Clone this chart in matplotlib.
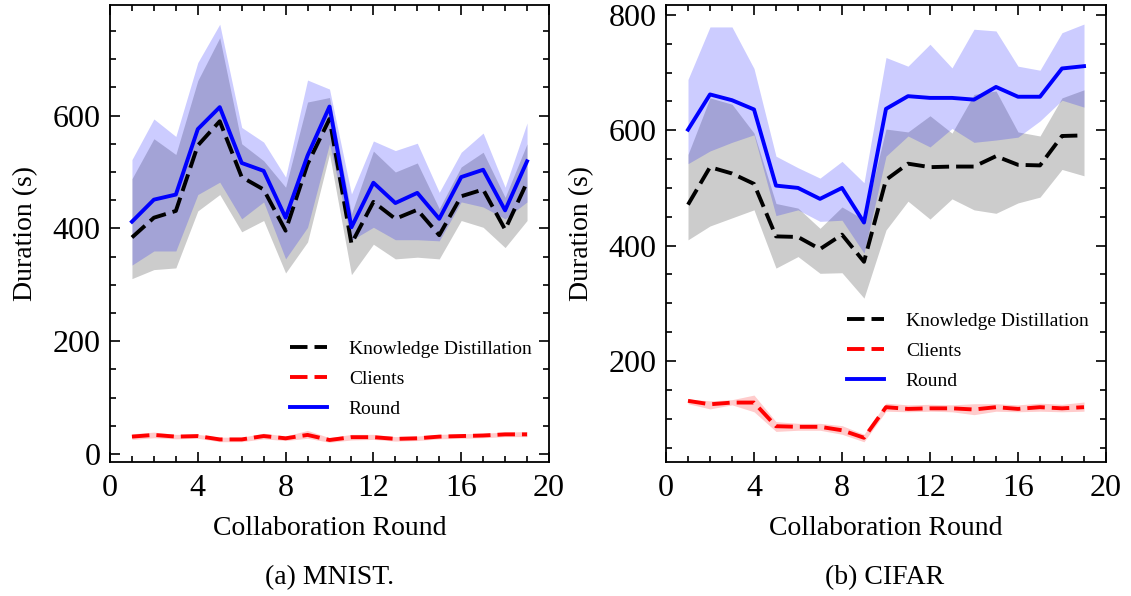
import matplotlib
matplotlib.use("Agg")
import matplotlib.pyplot as plt
from matplotlib.ticker import MultipleLocator
import numpy as np

plt.rcParams['font.family'] = ['Liberation Serif', 'DejaVu Serif']
plt.rcParams['mathtext.fontset'] = 'stix'

rounds = list(range(1, 20))

# MNIST
mnist_kd = [384, 419, 431, 547, 590, 491, 469, 396, 514, 594, 373, 447, 417, 433, 388, 457, 469, 398, 482]
mnist_kd_lo = [311, 327, 330, 431, 460, 394, 414, 321, 376, 532, 318, 372, 346, 349, 346, 414, 402, 366, 414]
mnist_kd_hi = [488, 559, 531, 662, 738, 550, 520, 473, 624, 632, 426, 537, 500, 516, 435, 509, 535, 455, 550]
mnist_round = [412, 451, 460, 576, 615, 516, 502, 419, 529, 616, 402, 481, 445, 463, 417, 491, 504, 432, 519]
mnist_round_lo = [335, 360, 360, 460, 482, 417, 447, 346, 402, 550, 379, 402, 380, 380, 378, 447, 438, 417, 447]
mnist_round_hi = [522, 594, 563, 694, 762, 579, 553, 491, 663, 647, 461, 555, 538, 551, 464, 535, 569, 473, 587]
mnist_cl = [31, 34, 31, 32, 26, 26, 32, 28, 34, 25, 30, 30, 27, 28, 31, 32, 33, 35, 35]
mnist_cl_lo = [26, 29, 27, 28, 22, 22, 27, 24, 28, 21, 25, 26, 23, 24, 27, 28, 29, 31, 31]
mnist_cl_hi = [36, 39, 35, 35, 30, 30, 37, 32, 42, 29, 35, 35, 31, 32, 35, 36, 37, 39, 40]

# CIFAR
cifar_kd = [471, 536, 525, 507, 416, 415, 394, 419, 372, 514, 542, 536, 537, 537, 555, 540, 539, 590, 591]
cifar_kd_lo = [410, 434, 448, 462, 361, 381, 352, 353, 309, 427, 477, 446, 481, 462, 456, 474, 484, 532, 521]
cifar_kd_hi = [558, 656, 645, 595, 473, 465, 430, 467, 445, 602, 597, 625, 595, 662, 668, 597, 590, 656, 670]
cifar_round = [601, 662, 652, 636, 504, 500, 481, 500, 440, 637, 659, 656, 656, 653, 675, 658, 658, 707, 711]
cifar_round_lo = [542, 564, 579, 592, 452, 462, 442, 444, 387, 555, 590, 571, 603, 579, 583, 588, 616, 652, 640]
cifar_round_hi = [688, 779, 779, 707, 555, 535, 517, 546, 509, 726, 711, 749, 708, 775, 772, 711, 704, 769, 784]
cifar_cl = [131, 125, 128, 128, 87, 86, 86, 80, 67, 120, 117, 118, 118, 116, 120, 117, 120, 118, 120]
cifar_cl_lo = [126, 117, 124, 112, 78, 80, 80, 73, 60, 113, 112, 113, 112, 107, 113, 112, 113, 112, 113]
cifar_cl_hi = [134, 131, 133, 141, 95, 92, 92, 88, 73, 127, 124, 125, 124, 126, 126, 124, 127, 125, 129]

x_ticks = [0, 4, 8, 12, 16, 20]
captions = ["(a) MNIST.", "(b) CIFAR"]

fig = plt.figure(figsize=(11.31, 5.96), dpi=100)
ax1 = fig.add_axes([110 / 1131, 134 / 596, 439 / 1131, 457 / 596])
ax2 = fig.add_axes([666 / 1131, 134 / 596, 440 / 1131, 457 / 596])

panels = [
    (ax1, mnist_kd, mnist_kd_lo, mnist_kd_hi, mnist_round, mnist_round_lo, mnist_round_hi,
     mnist_cl, mnist_cl_lo, mnist_cl_hi, (-14, 796), 0.058),
    (ax2, cifar_kd, cifar_kd_lo, cifar_kd_hi, cifar_round, cifar_round_lo, cifar_round_hi,
     cifar_cl, cifar_cl_lo, cifar_cl_hi, (25, 817), 0.12),
]

lw = 2.8
for (ax, kd, kdlo, kdhi, rd, rdlo, rdhi, cl, cllo, clhi, ylim, legy) in panels:
    ax.fill_between(rounds, kdlo, kdhi, color='black', alpha=0.2, linewidth=0)
    ax.fill_between(rounds, cllo, clhi, color='red', alpha=0.2, linewidth=0)
    ax.fill_between(rounds, rdlo, rdhi, color='blue', alpha=0.2, linewidth=0)
    ax.plot(rounds, kd, color='black', lw=lw, dashes=(4.5, 1.8), label='Knowledge Distillation')
    ax.plot(rounds, cl, color='red', lw=lw, dashes=(4.5, 1.8), label='Clients')
    ax.plot(rounds, rd, color='blue', lw=lw, label='Round')
    ax.set_xlim(0, 20)
    ax.set_ylim(*ylim)
    ax.set_xticks(x_ticks)
    ax.xaxis.set_minor_locator(MultipleLocator(1))
    ax.yaxis.set_major_locator(MultipleLocator(200))
    ax.yaxis.set_minor_locator(MultipleLocator(50))
    ax.tick_params(which='both', direction='in', top=True, right=True, width=1.2)
    ax.tick_params(which='major', length=7.5, labelsize=23)
    ax.tick_params(which='minor', length=4.3)
    ax.tick_params(axis='x', which='major', pad=9)
    ax.tick_params(axis='y', which='major', pad=7)
    for s in ax.spines.values():
        s.set_linewidth(1.3)
    ax.set_xlabel('Collaboration Round', fontsize=20, labelpad=9)
    ax.set_ylabel('Duration (s)', fontsize=20, labelpad=10)
    ax.legend(loc='lower right', bbox_to_anchor=(1.0, legy), frameon=False, fontsize=14,
              handlelength=1.9, handletextpad=1.1, labelspacing=0.63)

fig.text(330 / 1131, 1 - 578 / 596, captions[0], ha='center', va='center', fontsize=20)
fig.text(885 / 1131, 1 - 578 / 596, captions[1], ha='center', va='center', fontsize=20)

fig.savefig('out.png', dpi=100)
